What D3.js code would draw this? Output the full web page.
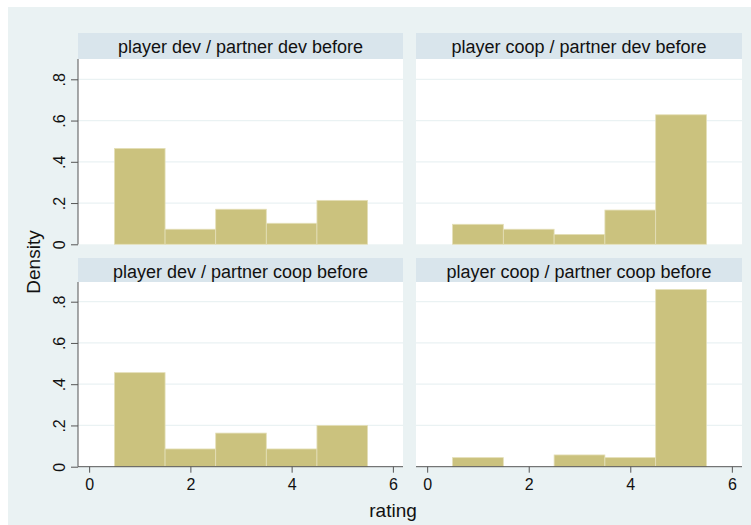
<!DOCTYPE html>
<html><head><meta charset="utf-8">
<script src="https://cdn.jsdelivr.net/npm/d3@7"></script>
<style>html,body{margin:0;padding:0;background:#fff}svg{display:block}</style>
</head><body>
<svg id="c" width="751" height="525"></svg>
<script>
const panelTitles = ["player dev / partner dev before", "player coop / partner dev before",
                     "player dev / partner coop before", "player coop / partner coop before"];
const ratings = [1, 2, 3, 4, 5];
const densDevDev   = [0.465, 0.073, 0.17, 0.102, 0.213];
const densCoopDev  = [0.097, 0.073, 0.048, 0.166, 0.628];
const densDevCoop  = [0.456, 0.086, 0.163, 0.086, 0.2];
const densCoopCoop = [0.044, 0, 0.057, 0.044, 0.859];
const yTicks = [0, 0.2, 0.4, 0.6, 0.8];
const yTickLabels = ["0", ".2", ".4", ".6", ".8"];
const xTicks = [0, 2, 4, 6];
const series = [densDevDev, densCoopDev, densDevCoop, densCoopCoop];

const svg = d3.select("#c");
const font = "Arial, 'Liberation Sans', sans-serif";
svg.append("rect").attr("x", 8).attr("y", 7).attr("width", 743).attr("height", 518).attr("fill", "#eaf2f3");

const cols = [{x0: 78, x1: 403}, {x0: 416, x1: 742}];
const rows = [{h0: 33, top: 59, base: 244.3}, {h0: 258, top: 282, base: 466.7}];

series.forEach((vals, i) => {
  const c = cols[i % 2], r = rows[Math.floor(i / 2)];
  const x = d3.scaleLinear().domain([-0.22, 6.2]).range([c.x0, c.x1]);
  const y = d3.scaleLinear().domain([0, 0.8]).range([r.base, r.base - 165]);
  const g = svg.append("g");
  g.append("rect").attr("x", c.x0).attr("y", r.h0).attr("width", c.x1 - c.x0).attr("height", r.top - r.h0).attr("fill", "#d9e5ec");
  g.append("text").attr("x", (c.x0 + c.x1) / 2).attr("y", r.h0 + 20).attr("text-anchor", "middle")
    .attr("font-family", font).attr("font-size", 18).attr("fill", "#111").text(panelTitles[i]);
  g.append("rect").attr("x", c.x0).attr("y", r.top).attr("width", c.x1 - c.x0).attr("height", r.base - r.top).attr("fill", "#fff");
  g.selectAll("line.grid").data(yTicks.filter(t => t > 0)).join("line").attr("class", "grid")
    .attr("x1", c.x0).attr("x2", c.x1).attr("y1", d => y(d)).attr("y2", d => y(d))
    .attr("stroke", "#eaf2f3").attr("stroke-width", 1.2);
  g.selectAll("rect.bar").data(ratings.map((r2, k) => ({r: r2, v: vals[k]})).filter(d => d.v > 0)).join("rect").attr("class", "bar")
    .attr("x", d => x(d.r - 0.5)).attr("width", d => x(d.r + 0.5) - x(d.r - 0.5))
    .attr("y", d => y(d.v)).attr("height", d => y(0) - y(d.v))
    .attr("fill", "#cbc27e").attr("stroke", "#e4dfb8").attr("stroke-width", 0.8);
  if (i % 2 === 0) {
    const ay = g.append("g").attr("transform", `translate(${c.x0},0)`)
      .call(d3.axisLeft(y).tickValues(yTicks).tickFormat((d, k) => yTickLabels[k]).tickSize(7).tickSizeOuter(0));
    ay.select(".domain").attr("d", `M0,${r.top}V${r.base}`).attr("stroke", "#555");
    ay.selectAll(".tick line").attr("stroke", "#555");
    ay.selectAll(".tick text").each(function() {
      d3.select(this).attr("font-family", font).attr("font-size", 16).attr("fill", "#111")
        .attr("text-anchor", "middle").attr("transform", "translate(-19,0) rotate(-90)")
        .attr("x", 0).attr("y", 0).attr("dy", "0.36em");
    });
  }
  if (i >= 2) {
    const ax = g.append("g").attr("transform", `translate(0,${r.base})`)
      .call(d3.axisBottom(x).tickValues(xTicks).tickFormat(d3.format("d")).tickSize(6).tickSizeOuter(0));
    ax.select(".domain").attr("d", `M${c.x0},0H${c.x1}`).attr("stroke", "#555");
    ax.selectAll(".tick line").attr("stroke", "#555");
    ax.selectAll(".tick text").attr("font-family", font).attr("font-size", 16).attr("fill", "#111").attr("y", 12);
  }
});

svg.append("text").attr("transform", "translate(40,262) rotate(-90)").attr("text-anchor", "middle")
  .attr("font-family", font).attr("font-size", 19).attr("fill", "#111").text("Density");
svg.append("text").attr("x", 393).attr("y", 517).attr("text-anchor", "middle")
  .attr("font-family", font).attr("font-size", 19).attr("fill", "#111").text("rating");
</script>
</body></html>
